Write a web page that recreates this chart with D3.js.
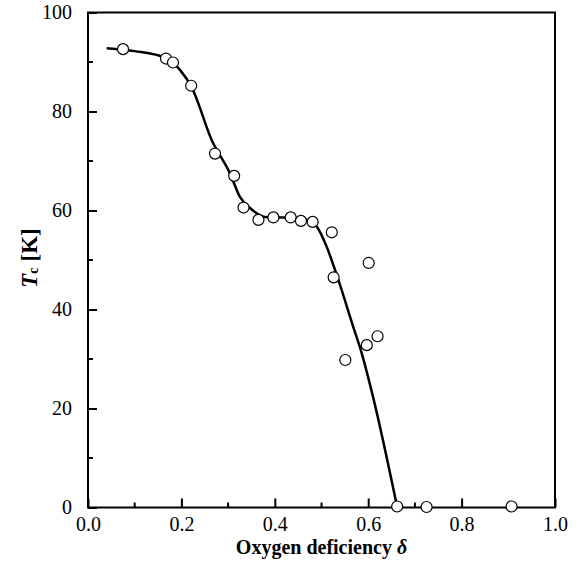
<!DOCTYPE html>
<html>
<head>
<meta charset="utf-8">
<script src="https://cdn.jsdelivr.net/npm/d3@7"></script>
<style>
  body { margin: 0; background: #fff; }
  text { font-family: "Liberation Serif", "Times New Roman", serif; }
</style>
</head>
<body>
<div id="chart"></div>
<script>
// measured points
var delta = [0.075, 0.167, 0.182, 0.221, 0.272, 0.313, 0.333, 0.365, 0.397, 0.434, 0.456, 0.481, 0.522, 0.526, 0.551, 0.597, 0.601, 0.620, 0.662, 0.725, 0.907]
var tc = [92.6, 90.7, 89.9, 85.2, 71.5, 67.0, 60.6, 58.1, 58.6, 58.6, 57.9, 57.7, 55.6, 46.5, 29.8, 32.8, 49.4, 34.6, 0.2, 0.1, 0.2]

// guide curve
var curveX = [0.040, 0.100, 0.167, 0.197, 0.223, 0.265, 0.304, 0.325, 0.347, 0.379, 0.417, 0.468, 0.490, 0.511, 0.529, 0.568, 0.586, 0.611, 0.662]
var curveY = [92.8, 92.2, 90.8, 88.4, 84.7, 74.2, 67.5, 62.8, 60.5, 58.7, 58.6, 58.1, 56.7, 52.7, 48.0, 36.5, 31.2, 22.1, 0.1]

var xTicks = [0, 0.2, 0.4, 0.6, 0.8, 1.0]
var xMinor = [0.1, 0.3, 0.5, 0.7, 0.9]
var yTicks = [0, 20, 40, 60, 80, 100]
var yMinor = [10, 30, 50, 70, 90]

var svgWidth = 576
var svgHeight = 562
var margin = { top: 12.5, right: 21, bottom: 54.5, left: 88 }
var width = svgWidth - margin.left - margin.right
var height = svgHeight - margin.top - margin.bottom

var svg = d3.select("#chart").append("svg")
  .attr("width", svgWidth)
  .attr("height", svgHeight)

var g = svg.append("g")
  .attr("transform", `translate(${margin.left}, ${margin.top})`)

var x = d3.scaleLinear().domain([0, 1]).range([0, width])
var y = d3.scaleLinear().domain([0, 100]).range([height, 0])

// bottom axis, ticks inside
var xAxis = g.append("g")
  .attr("transform", `translate(0, ${height})`)
  .call(d3.axisBottom(x).tickValues(xTicks).tickSize(-9).tickPadding(9).tickFormat(d3.format(".1f")))
xAxis.append("g").selectAll("line")
  .data(xMinor).enter().append("line")
  .attr("x1", d => x(d)).attr("x2", d => x(d))
  .attr("y1", 0).attr("y2", -5)
  .attr("stroke", "#000").attr("stroke-width", 2)

var yAxis = g.append("g")
  .call(d3.axisLeft(y).tickValues(yTicks).tickSize(-9).tickPadding(16).tickFormat(d3.format("d")))
yAxis.append("g").selectAll("line")
  .data(yMinor).enter().append("line")
  .attr("y1", d => y(d)).attr("y2", d => y(d))
  .attr("x1", 0).attr("x2", 5)
  .attr("stroke", "#000").attr("stroke-width", 2)

g.selectAll(".domain").remove()
g.selectAll(".tick line").attr("stroke-width", 2)
g.selectAll(".tick text").attr("font-size", 20).attr("fill", "#000")
  .style("font-family", "'Liberation Serif', serif")

// frame
g.append("rect")
  .attr("width", width).attr("height", height)
  .attr("fill", "none").attr("stroke", "#000").attr("stroke-width", 2)

// curve
var line = d3.line()
  .x(d => x(d[0]))
  .y(d => y(d[1]))
  .curve(d3.curveMonotoneX)

g.append("path")
  .datum(d3.zip(curveX, curveY))
  .attr("d", line)
  .attr("fill", "none")
  .attr("stroke", "#000")
  .attr("stroke-width", 2.5)

g.append("g").selectAll("circle")
  .data(d3.zip(delta, tc)).enter()
  .append("circle")
  .attr("cx", d => x(d[0]))
  .attr("cy", d => y(d[1]))
  .attr("r", 5.5)
  .attr("fill", "#fff")
  .attr("stroke", "#000")
  .attr("stroke-width", 1.2)

// axis titles
var xt = svg.append("text")
  .attr("x", margin.left + width / 2)
  .attr("y", 554)
  .attr("text-anchor", "middle")
  .attr("font-size", 20)
  .attr("font-weight", "bold")
xt.append("tspan").text("Oxygen deficiency ")
xt.append("tspan").attr("font-style", "italic").text("δ")

var yt = svg.append("text")
  .attr("transform", "translate(37, 288) rotate(-90)")
  .attr("text-anchor", "start")
  .attr("font-size", 23)
  .attr("font-weight", "bold")
yt.append("tspan").attr("font-style", "italic").text("T")
yt.append("tspan").attr("font-size", 15).attr("dy", 1).text("c")
yt.append("tspan").attr("dy", -1).text(" [K]")
</script>
</body>
</html>
